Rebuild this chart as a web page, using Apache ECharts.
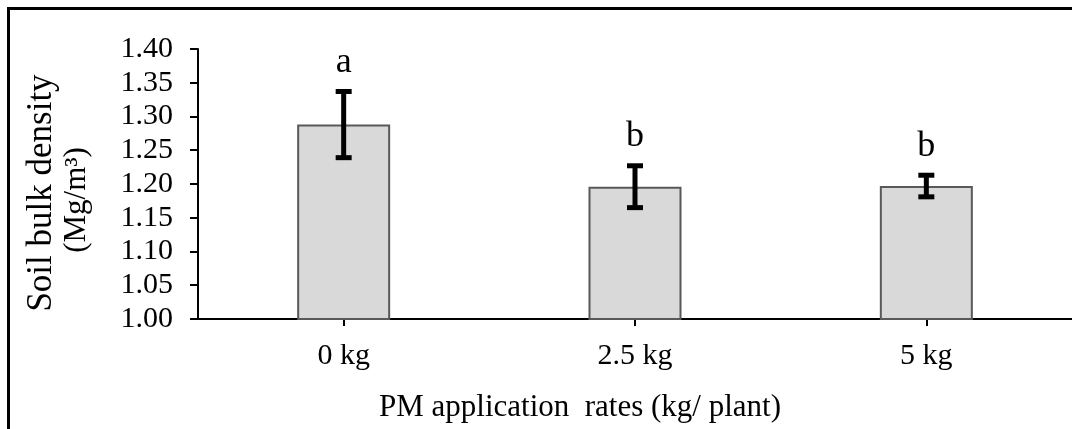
<!DOCTYPE html>
<html>
<head>
<meta charset="utf-8">
<script src="https://cdn.jsdelivr.net/npm/echarts@6/dist/echarts.min.js"></script>
<style>
html,body{margin:0;padding:0;background:#fff;}
#c{width:1072px;height:429px;}
</style>
</head>
<body>
<div id="c"></div>
<script>
const categories = ['0 kg', '2.5 kg', '5 kg'];
const values = [1.288, 1.196, 1.197];
const errors = [0.049, 0.031, 0.016];
const letters = ['a', 'b', 'b'];
const yTicks = { min: 1.0, max: 1.4, interval: 0.05 };
const xAxisTitle = 'PM application  rates (kg/ plant)';
const yAxisTitle1 = 'Soil bulk density';
const yAxisTitle2 = '(Mg/m\u00B3)';

const FONT = "'Liberation Serif', 'Times New Roman', serif";
const chart = echarts.init(document.getElementById('c'), null, { renderer: 'canvas' });

const option = {
  animation: false,
  backgroundColor: '#fff',
  grid: { left: 198, right: -17, top: 49, bottom: 110, containLabel: false },
  xAxis: {
    type: 'category',
    data: categories,
    axisLine: { lineStyle: { color: '#000', width: 2 } },
    axisTick: { show: true, alignWithLabel: true, length: 7, lineStyle: { color: '#000', width: 2 } },
    axisLabel: { color: '#000', fontFamily: FONT, fontSize: 30, margin: 22 },
    splitLine: { show: false }
  },
  yAxis: {
    type: 'value',
    min: yTicks.min, max: yTicks.max, interval: yTicks.interval,
    axisLine: { show: true, lineStyle: { color: '#000', width: 2 } },
    axisTick: { show: true, length: 8, lineStyle: { color: '#000', width: 2 } },
    axisLabel: { color: '#000', fontFamily: FONT, fontSize: 30, margin: 25,
      formatter: v => v.toFixed(2) },
    splitLine: { show: false }
  },
  graphic: [
    { type: 'rect', shape: { x: 8.5, y: 8.5, width: 1200, height: 600 }, style: { fill: 'none', stroke: '#000', lineWidth: 3 }, z: 100 },
    { type: 'text', x: 580, y: 408, style: { text: xAxisTitle, fontSize: 31, fontFamily: FONT, fill: '#000', textAlign: 'center', textVerticalAlign: 'middle' } },
    { type: 'text', x: 42, y: 193, rotation: Math.PI / 2, style: { text: yAxisTitle1, fontSize: 35, fontFamily: FONT, fill: '#000', textAlign: 'center', textVerticalAlign: 'middle' } },
    { type: 'text', x: 77, y: 200, rotation: Math.PI / 2, style: { text: yAxisTitle2, fontSize: 31, fontFamily: FONT, fill: '#000', textAlign: 'center', textVerticalAlign: 'middle' } }
  ],
  series: [
    {
      type: 'bar',
      data: values,
      barWidth: 93,
      itemStyle: { color: '#d9d9d9', borderColor: '#595959', borderWidth: 2 },
      z: 2
    },
    {
      type: 'custom',
      data: values.map((v, i) => [i, v, errors[i]]),
      renderItem: function (params, api) {
        const i = api.value(0), v = api.value(1), e = api.value(2);
        const top = api.coord([i, v + e]);
        const bot = api.coord([i, v - e]);
        const cap = 8;
        const lw = 5;
        return {
          type: 'group',
          children: [
            { type: 'line', shape: { x1: top[0], y1: top[1], x2: bot[0], y2: bot[1] }, style: { stroke: '#000', lineWidth: lw } },
            { type: 'line', shape: { x1: top[0] - cap, y1: top[1], x2: top[0] + cap, y2: top[1] }, style: { stroke: '#000', lineWidth: lw } },
            { type: 'line', shape: { x1: bot[0] - cap, y1: bot[1], x2: bot[0] + cap, y2: bot[1] }, style: { stroke: '#000', lineWidth: lw } },
            { type: 'text', x: top[0], y: top[1] - 11, style: { text: letters[params.dataIndex], fontSize: 36, fontFamily: FONT, fill: '#000', textAlign: 'center', textVerticalAlign: 'bottom' } }
          ]
        };
      },
      z: 5
    }
  ]
};
chart.setOption(option);
</script>
</body>
</html>
